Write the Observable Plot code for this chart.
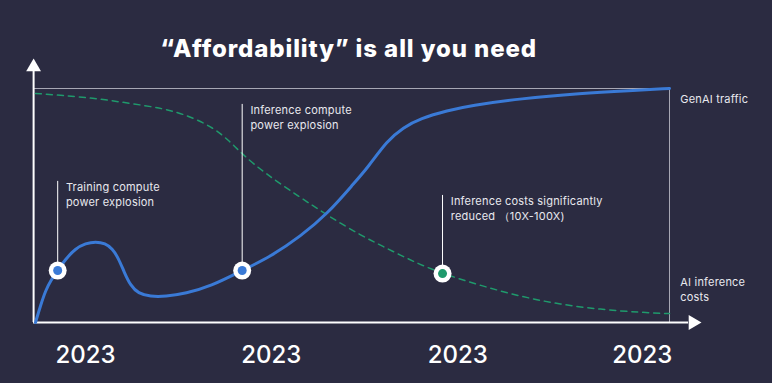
<!DOCTYPE html>
<html>
<head>
<meta charset="utf-8">
<script src="https://cdn.jsdelivr.net/npm/d3@7"></script>
<script src="https://cdn.jsdelivr.net/npm/@observablehq/plot@0.6"></script>
<style>
  html, body { margin: 0; padding: 0; background: #2b2b41; }
  .title-mark text { letter-spacing: 0.9px; }
  .label-mark text { letter-spacing: 0.2px; }
</style>
</head>
<body>
<div id="chart"></div>
<script>
// GenAI traffic (blue solid curve), time 0..100, level 0..100
const trafficX = [0, 0.8, 1.6, 2.4, 3.5, 4.7, 6.3, 7.9, 9.5, 11.0, 12.1, 13.1, 14.0, 15.0, 16.2, 18.1, 20.5, 23.7, 27.6, 32.6, 37.1, 41.8, 46.1, 50.2, 52.4, 55.5, 58.0, 60.7, 65.0, 68.6, 76.5, 86.0, 93.8, 100];
const trafficY = [0, 7.3, 13.7, 17.9, 22.2, 26.9, 31.6, 33.8, 34.6, 33.8, 31.6, 27.4, 21.4, 15.8, 12.4, 11.1, 11.1, 12.4, 15.4, 22.2, 28.2, 36.8, 46.6, 59.4, 66.2, 77.8, 83.3, 87.2, 90.6, 92.7, 95.7, 97.9, 99.1, 100];

// AI inference costs (green dashed curve)
const costX = [0, 4.4, 9.8, 15.0, 20.2, 24.0, 28.1, 30.8, 32.6, 36.0, 41.8, 46.1, 51.3, 55.5, 59.9, 64.2, 70.2, 76.5, 82.8, 89.1, 95.4, 100];
const costY = [97.9, 97.0, 95.7, 93.6, 91.5, 88.5, 83.3, 77.0, 72.0, 64.1, 53.4, 45.7, 37.2, 31.6, 25.6, 20.9, 15.8, 11.1, 7.7, 5.6, 4.3, 3.8];

// Milestones
const milestoneText = ["Training compute\npower explosion", "Inference compute\npower explosion", "Inference costs significantly\nreduced （10X-100X)"];
const milestoneX = [3.5, 32.6, 64.2];
const milestoneY = [22.2, 22.2, 20.9];
const milestoneTop = [60.3, 93.2, 54.3];
const milestoneSeries = ["traffic", "traffic", "cost"];

// Tick labels on the time axis
const tickLabels = ["2023", "2023", "2023", "2023"];
const tickX = [7.9, 37.2, 66.6, 95.7];

// Series labels at the right
const seriesLabels = ["GenAI traffic", "AI inference\ncosts"];
const seriesLabelY = [95.7, 17.5];

const title = "“Affordability” is all you need";

const BLUE = "#3a7ad6";
const GREEN = "#1f9a6c";
const FONT = "Inter, 'Noto Sans', sans-serif";

const traffic = trafficX.map((x, i) => ({x, y: trafficY[i]}));
const cost = costX.map((x, i) => ({x, y: costY[i]}));
const milestones = milestoneText.map((t, i) => ({
  text: t, x: milestoneX[i], y: milestoneY[i], top: milestoneTop[i],
  color: milestoneSeries[i] === "traffic" ? BLUE : GREEN
}));
const ticks = tickLabels.map((t, i) => ({text: t, x: tickX[i]}));
const labels = seriesLabels.map((t, i) => ({text: t, y: seriesLabelY[i]}));

const chart = Plot.plot({
  width: 772,
  height: 383,
  marginLeft: 35,
  marginRight: 103,
  marginTop: 88,
  marginBottom: 61,
  style: {background: "#2b2b41", color: "#ffffff", fontFamily: FONT, overflow: "visible"},
  x: {domain: [0, 100], axis: null},
  y: {domain: [0, 100], axis: null},
  marks: [
    // frame lines (top and right)
    Plot.ruleY([100], {x1: -0.3, x2: 100, stroke: "#a7a7b4", strokeWidth: 1}),
    Plot.ruleX([100], {y1: 0, y2: 100, stroke: "#a7a7b4", strokeWidth: 1}),
    // axes
    Plot.ruleX([-0.3], {y1: 0, y2: 108, stroke: "#ffffff", strokeWidth: 2}),
    Plot.ruleY([0], {x1: -0.3, x2: 103, stroke: "#ffffff", strokeWidth: 2}),
    Plot.dot([{x: -0.3, y: 109.2}], {x: "x", y: "y", symbol: "triangle", r: 5.5, fill: "#ffffff", stroke: "none"}),
    Plot.dot([{x: 103.7, y: 0}], {x: "x", y: "y", symbol: "triangle", r: 5.5, fill: "#ffffff", stroke: "none", rotate: 90}),
    // curves
    Plot.line(cost, {x: "x", y: "y", curve: "basis", stroke: GREEN, strokeWidth: 1.5, strokeDasharray: "6,5"}),
    Plot.line(traffic, {x: "x", y: "y", curve: "basis", stroke: BLUE, strokeWidth: 3}),
    // milestone leader lines
    Plot.ruleX(milestones, {x: "x", y1: "y", y2: "top", stroke: "#ffffff", strokeWidth: 1}),
    // milestone markers
    Plot.dot(milestones, {x: "x", y: "y", r: 9, fill: "#ffffff", stroke: "none"}),
    Plot.dot(milestones, {x: "x", y: "y", r: 4.5, fill: "color", stroke: "none"}),
    // milestone labels
    Plot.text(milestones, {x: d => d.x + 1.3, y: "top", text: "text", textAnchor: "start", lineAnchor: "top", fontSize: 11, fill: "#e8e8ee", lineHeight: 1.35, dy: -1, className: "label-mark"}),
    // series labels
    Plot.text(labels, {x: 101.7, y: "y", text: "text", textAnchor: "start", lineAnchor: "top", fontSize: 11, fill: "#e8e8ee", lineHeight: 1.35, dy: -6, className: "label-mark"}),
    // tick labels
    Plot.text(ticks, {x: "x", y: -14.1, text: "text", fontSize: 24, fill: "#ffffff", fontWeight: 500}),
    // title
    Plot.text([title], {x: 49.4, y: 116.8, text: d => d, fontSize: 24, fontWeight: 800, fill: "#ffffff", className: "title-mark"})
  ]
});
document.getElementById("chart").append(chart);
</script>
</body>
</html>
